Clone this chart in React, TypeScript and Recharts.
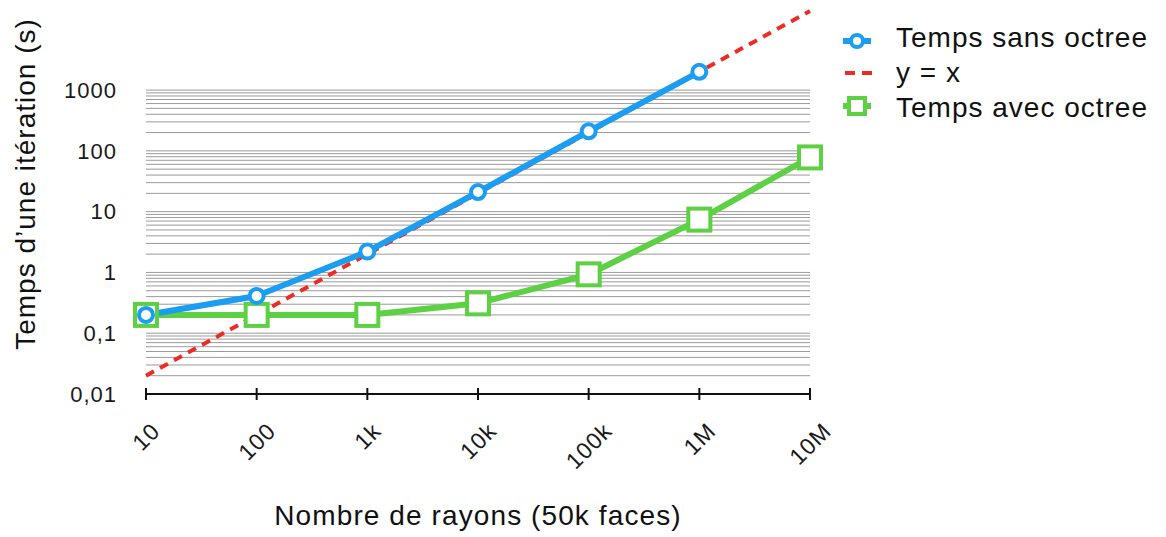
import React from "react"
import { LineChart, Line, XAxis, YAxis, ReferenceLine, Label } from "recharts"

// nombre de rayons (axe log) et leurs libellés
const rays = [10, 100, 1000, 10000, 100000, 1000000, 10000000]
const rayLabels = ["10", "100", "1k", "10k", "100k", "1M", "10M"]

// temps d'une itération (s)
const sansOctree = [0.2, 0.41, 2.2, 21, 210, 2000, null]
const yEqualsX = [0.02, 0.2, 2, 20, 200, 2000, 20000]
const avecOctree = [0.2, 0.2, 0.2, 0.31, 0.93, 7.4, 78]

const yTicks = [0.01, 0.1, 1, 10, 100, 1000]
const yTickLabels = ["0,01", "0,1", "1", "10", "100", "1000"]
const gridValues = [
  0.02, 0.03, 0.04, 0.05, 0.06, 0.07, 0.08, 0.09,
  0.1, 0.2, 0.3, 0.4, 0.5, 0.6, 0.7, 0.8, 0.9,
  1, 2, 3, 4, 5, 6, 7, 8, 9,
  10, 20, 30, 40, 50, 60, 70, 80, 90,
  100, 200, 300, 400, 500, 600, 700, 800, 900,
  1000,
]

const seriesNames = ["Temps sans octree", "y = x", "Temps avec octree"]

const BLUE = "#1b9df2"
const RED = "#ec2b25"
const GREEN = "#5dd143"
const FONT = '"Liberation Sans", Arial, Helvetica, sans-serif'
const TICK_FS = 22
const XTICK_FS = 23
const TITLE_FS = 28

const data = rays.map((r, i) => ({
  rays: r,
  sans: sansOctree[i],
  yx: yEqualsX[i],
  avec: avecOctree[i],
}))

let ctx: CanvasRenderingContext2D | null = null
function measure(s: string, size: number, spacing: number) {
  if (!ctx) ctx = document.createElement("canvas").getContext("2d")
  if (!ctx) return s.length * size * 0.56
  ctx.font = `${size}px "Liberation Sans"`
  return ctx.measureText(s).width + spacing * s.length
}

function XTick(props: any) {
  const { x, y, payload } = props
  const label = rayLabels[rays.indexOf(payload.value)] ?? String(payload.value)
  const len = measure(label, XTICK_FS, 1)
  const cy = y + 27 + (len + 16) / 2.828
  return (
    <g>
      <line x1={x} x2={x} y1={y - 6} y2={y + 6} stroke="#111" strokeWidth={2} />
      <text
        x={x}
        y={cy}
        dy="0.36em"
        textAnchor="middle"
        transform={`rotate(-45 ${x} ${cy})`}
        fontSize={XTICK_FS}
        fontFamily={FONT}
        letterSpacing={1}
        fill="#1a1a1a"
      >
        {label}
      </text>
    </g>
  )
}

function CircleDot(props: any) {
  const { cx, cy, value } = props
  if (value == null || cx == null || cy == null) return <g />
  return <circle cx={cx} cy={cy} r={7} fill="#fff" stroke={BLUE} strokeWidth={4} />
}

function SquareDot(props: any) {
  const { cx, cy, value } = props
  if (value == null || cx == null || cy == null) return <g />
  return <rect x={cx - 11} y={cy - 11} width={22} height={22} fill="#fff" stroke={GREEN} strokeWidth={4} />
}

function LegendBox() {
  const rows = [41, 73, 106]
  const baselines = [47, 82, 117]
  return (
    <svg width={330} height={140} style={{ position: "absolute", left: 834, top: 0 }}>
      <line x1={9} x2={37} y1={rows[0]} y2={rows[0]} stroke={BLUE} strokeWidth={6} />
      <circle cx={23} cy={rows[0]} r={6} fill="#fff" stroke={BLUE} strokeWidth={4} />
      <line x1={11} x2={38} y1={rows[1]} y2={rows[1]} stroke={RED} strokeWidth={4} strokeDasharray="10 7" />
      <line x1={9} x2={37} y1={rows[2]} y2={rows[2]} stroke={GREEN} strokeWidth={6} />
      <rect x={15} y={rows[2] - 8} width={16} height={16} fill="#fff" stroke={GREEN} strokeWidth={4} />
      {seriesNames.map((n, i) => (
        <text key={n} x={62} y={baselines[i]} fontSize={TITLE_FS} fontFamily={FONT} letterSpacing={1} fill="#111">
          {n}
        </text>
      ))}
    </svg>
  )
}

export default function App() {
  return (
    <div style={{ position: "relative", width: 1166, height: 537, background: "#fff" }}>
      <style>{`body{margin:0}`}</style>
      <LineChart width={1166} height={537} data={data} margin={{ top: 11, right: 356, bottom: 0, left: 0 }}>
        <XAxis
          dataKey="rays"
          type="number"
          scale="log"
          domain={[10, 10000000]}
          ticks={rays}
          height={143}
          axisLine={{ stroke: "#111", strokeWidth: 2 }}
          tickLine={false}
          tickSize={0}
          tickMargin={0}
          tick={<XTick />}
          interval={0}
        >
          <Label
            content={(p: any) => {
              const vb = p.viewBox
              return (
                <text
                  x={vb.x + vb.width / 2}
                  y={vb.y + 131}
                  textAnchor="middle"
                  fontSize={TITLE_FS}
                  fontFamily={FONT}
                  letterSpacing={1.1}
                  fill="#111"
                >
                  Nombre de rayons (50k faces)
                </text>
              )
            }}
          />
        </XAxis>
        <YAxis
          type="number"
          scale="log"
          domain={[0.01, 20000]}
          ticks={yTicks}
          tickFormatter={(v: number) => yTickLabels[yTicks.indexOf(v)] ?? String(v)}
          width={146}
          axisLine={false}
          tickLine={false}
          tickSize={0}
          tickMargin={29}
          interval={0}
          tick={{ fontSize: TICK_FS, fontFamily: FONT, fill: "#1a1a1a", letterSpacing: 1 }}
        >
          <Label
            content={(p: any) => {
              const vb = p.viewBox
              const cy = vb.y + 173
              return (
                <text
                  x={35}
                  y={cy}
                  textAnchor="middle"
                  transform={`rotate(-90 35 ${cy})`}
                  fontSize={TITLE_FS}
                  fontFamily={FONT}
                  letterSpacing={1}
                  fill="#111"
                >
                  Temps d’une itération (s)
                </text>
              )
            }}
          />
        </YAxis>
        {gridValues.map((v) => (
          <ReferenceLine key={v} y={v} stroke="#9a9a9a" strokeWidth={1} />
        ))}
        <Line
          dataKey="avec"
          type="linear"
          stroke={GREEN}
          strokeWidth={6}
          dot={<SquareDot />}
          activeDot={false}
          isAnimationActive={false}
        />
        <Line
          dataKey="yx"
          type="linear"
          stroke={RED}
          strokeWidth={4}
          strokeDasharray="9 7"
          dot={false}
          activeDot={false}
          isAnimationActive={false}
        />
        <Line
          dataKey="sans"
          type="linear"
          stroke={BLUE}
          strokeWidth={6}
          dot={<CircleDot />}
          activeDot={false}
          isAnimationActive={false}
        />
      </LineChart>
      <LegendBox />
    </div>
  )
}
